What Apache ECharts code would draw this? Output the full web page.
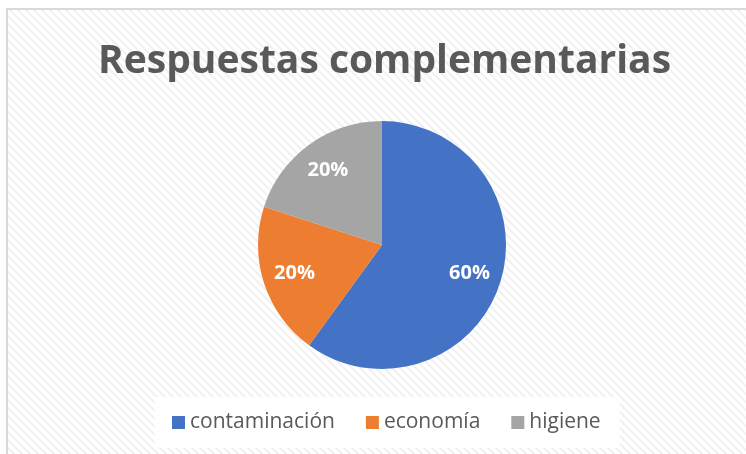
<!DOCTYPE html>
<html>
<head>
<meta charset="utf-8">
<script src="https://cdn.jsdelivr.net/npm/echarts@6/dist/echarts.min.js"></script>
<style>
  html, body { margin: 0; padding: 0; background: #fff; }
  #chart { width: 746px; height: 454px; }
</style>
</head>
<body>
<div id="chart"></div>
<script>
var categories = ['contaminación', 'economía', 'higiene'];
var values = [60, 20, 20];
var colors = ['#4472c4', '#ed7d31', '#a5a5a5'];

// light diagonal pattern like the Excel chart area
function makePattern() {
  var c = document.createElement('canvas');
  c.width = 8;
  c.height = 8;
  var ctx = c.getContext('2d');
  ctx.fillStyle = '#ffffff';
  ctx.fillRect(0, 0, 8, 8);
  ctx.strokeStyle = '#f1f1f1';
  ctx.lineWidth = 2;
  ctx.beginPath();
  ctx.moveTo(-2, -2); ctx.lineTo(10, 10);
  ctx.moveTo(-6, 2); ctx.lineTo(6, 14);
  ctx.moveTo(2, -6); ctx.lineTo(14, 6);
  ctx.stroke();
  return c;
}

var pieData = categories.map(function (name, i) {
  return { name: name, value: values[i], itemStyle: { color: colors[i] } };
});

var myChart = echarts.init(document.getElementById('chart'));
myChart.setOption({
  animation: false,
  backgroundColor: '#ffffff',
  graphic: [
    {
      type: 'rect',
      z: -10,
      silent: true,
      shape: { x: 7, y: 9, width: 800, height: 500 },
      style: { fill: { image: makePattern(), repeat: 'repeat' }, stroke: '#d9d9d9', lineWidth: 2 }
    }
  ],
  title: {
    text: 'Respuestas complementarias',
    left: 93,
    top: 37,
    textStyle: {
      fontFamily: 'Open Sans',
      fontWeight: 'bold',
      fontSize: 39,
      color: '#595959'
    }
  },
  legend: {
    left: 155,
    top: 397,
    backgroundColor: '#ffffff',
    padding: [15, 19, 15, 17],
    itemWidth: 13,
    itemHeight: 13,
    itemGap: 31,
    icon: 'rect',
    textStyle: { fontFamily: 'Open Sans', fontSize: 21, color: '#595959' },
    data: categories
  },
  series: [
    {
      type: 'pie',
      center: [382, 245],
      radius: [0, 124],
      startAngle: 90,
      clockwise: true,
      label: { show: false },
      labelLine: { show: false },
      itemStyle: { borderWidth: 0 },
      data: pieData
    },
    {
      // transparent ring only used to place the labels further out
      type: 'pie',
      center: [382, 245],
      radius: [54, 124],
      startAngle: 90,
      clockwise: true,
      silent: true,
      itemStyle: { color: 'rgba(0,0,0,0)', borderWidth: 0 },
      label: {
        show: true,
        position: 'inside',
        formatter: '{d}%',
        color: '#ffffff',
        fontFamily: 'Open Sans',
        fontWeight: 'bold',
        fontSize: 20
      },
      labelLine: { show: false },
      data: categories.map(function (name, i) { return { name: name, value: values[i] }; })
    }
  ]
});
</script>
</body>
</html>
